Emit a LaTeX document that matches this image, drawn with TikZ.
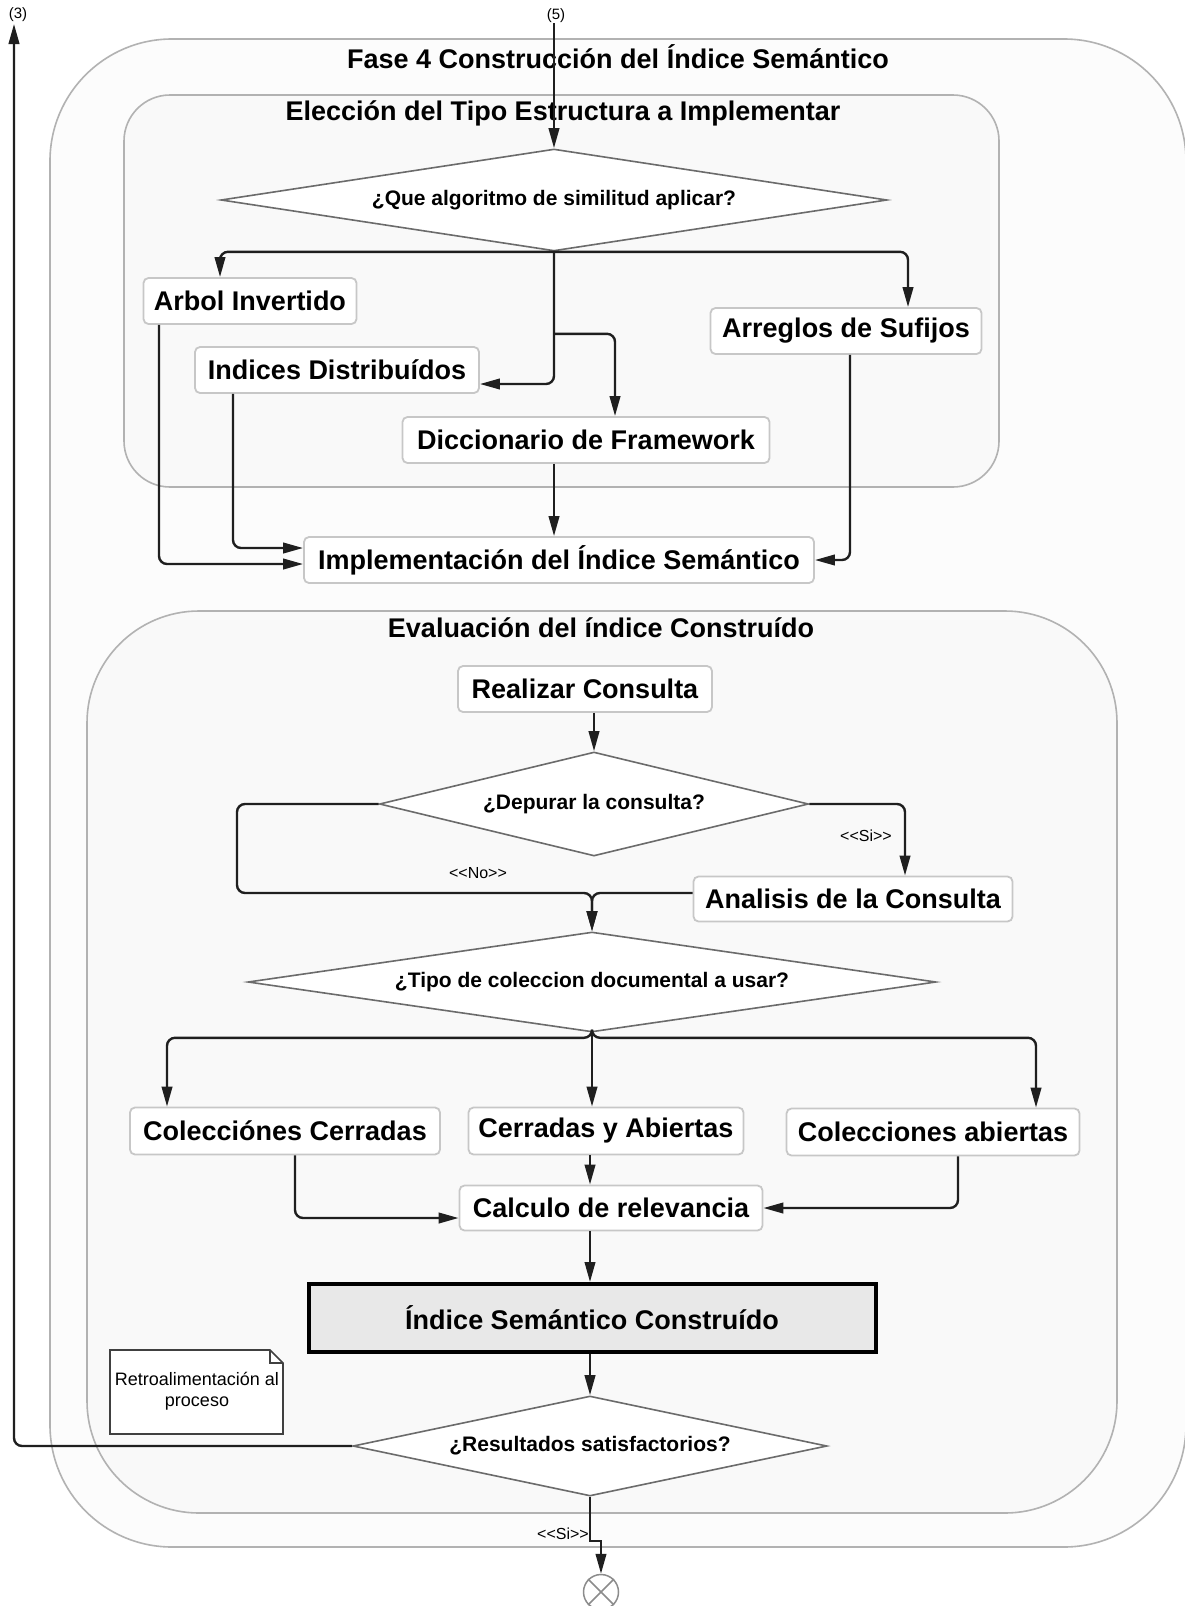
\documentclass[tikz,border=0pt]{standalone}
\usepackage{fontspec}
\setmainfont{Liberation Sans}
\usetikzlibrary{arrows.meta,shapes.geometric,calc}

\begin{document}
\begin{tikzpicture}[x=1pt,y=-1pt,
  flow/.style={draw=black!88, line width=2.4pt, rounded corners=8pt,
               -{Triangle[length=20pt,width=10.5pt]}},
  container/.style={draw=black!30, line width=1.6pt},
  stepbox/.style={draw=black!22, line width=1.8pt, fill=white, rounded corners=5pt,
                  inner sep=0pt, font=\fontsize{27}{32}\selectfont\bfseries},
  decision/.style={diamond, draw=black!58, line width=1.6pt, fill=white, inner sep=0pt,
                   font=\fontsize{21}{25}\selectfont\bfseries},
  title/.style={inner sep=0pt, font=\fontsize{27}{32}\selectfont\bfseries},
  guard/.style={inner sep=0pt, font=\fontsize{16}{19}\selectfont},
  port/.style={inner sep=0pt, font=\fontsize{15}{18}\selectfont},
]
% page
\fill[white] (0,0) rectangle (1184,1606);
\useasboundingbox (0,0) rectangle (1184,1606);

% swimlane containers
\draw[container, fill=black!1, rounded corners=122pt] (50,39) rectangle (1186,1547);
\draw[container, fill=black!2.5, rounded corners=46pt] (124,95) rectangle (999,487);
\draw[container, fill=black!2.5, rounded corners=112pt] (87,611) rectangle (1117,1513);

\node[title] (tfase) at (618,57) {Fase 4 Construcción del Índice Semántico};
\node[title] (telec) at (563,113) {Elección del Tipo Estructura a Implementar};
\node[title] (teval) at (601,628) {Evaluación del índice Construído};

% --- structure choice ---
\node[decision, aspect=6.66, minimum width=666pt, minimum height=102pt] (d1) at (554,200)
  {¿Que algoritmo de similitud aplicar?};
\node[stepbox, minimum width=213pt, minimum height=46pt] (arbol) at (250,301) {Arbol Invertido};
\node[stepbox, minimum width=284pt, minimum height=46pt] (indices) at (337,370) {Indices Distribuídos};
\node[stepbox, minimum width=367pt, minimum height=46pt] (dicc) at (586,440) {Diccionario de Framework};
\node[stepbox, minimum width=271pt, minimum height=46pt] (arreglos) at (846,331) {Arreglos de Sufijos};
\node[stepbox, minimum width=510pt, minimum height=46pt] (impl) at (559,560) {Implementación del Índice Semántico};

% --- evaluation ---
\node[stepbox, minimum width=254pt, minimum height=46pt] (realizar) at (585,689) {Realizar Consulta};
\node[decision, aspect=4.2, minimum width=429pt, minimum height=104pt] (d2) at (594,804)
  {¿Depurar la consulta?};
\node[stepbox, minimum width=319pt, minimum height=45pt] (analisis) at (853,899) {Analisis de la Consulta};
\node[decision, aspect=6.88, minimum width=688pt, minimum height=100pt] (d3) at (592,982)
  {¿Tipo de coleccion documental a usar?};
\node[stepbox, minimum width=310pt, minimum height=47pt] (colcerr) at (285,1131) {Colecciónes Cerradas};
\node[stepbox, minimum width=275pt, minimum height=47pt] (cya) at (606,1131) {Cerradas y Abiertas};
\node[stepbox, minimum width=293pt, minimum height=47pt] (colab) at (933,1132) {Colecciones abiertas};
\node[stepbox, minimum width=303pt, minimum height=45pt] (calc) at (611,1208) {Calculo de relevancia};
\node[draw=black, line width=4pt, fill=black!9, minimum width=567pt, minimum height=68pt,
      inner sep=0pt, font=\fontsize{27}{32}\selectfont\bfseries] (indice) at (592,1318)
  {Índice Semántico Construído};
\node[decision, aspect=4.8, minimum width=474pt, minimum height=100pt] (d4) at (590,1446)
  {¿Resultados satisfactorios?};

% note
\draw[black!75, line width=1.6pt, fill=white]
  (110,1350) -- (270,1350) -- (283,1363) -- (283,1434) -- (110,1434) -- cycle;
\draw[black!75, line width=1.2pt] (270,1350) -- (270,1363) -- (283,1363);
\node[align=center, inner sep=0pt, font=\fontsize{18}{21}\selectfont] (nota) at (197,1391)
  {Retroalimentación al\\proceso};

% flow final
\node[circle, draw=black!45, line width=1.5pt, minimum size=35pt, inner sep=0pt] (fin) at (601,1592) {};
\draw[black!45, line width=1.5pt] (fin.north west) -- (fin.south east)
  (fin.north east) -- (fin.south west);

% off-page connectors
\node[port] (p5) at (556,16) {(5)};
\node[port] (p3) at (18,15) {(3)};
\coordinate (in5) at (554,23);
\coordinate (out3) at (14,24);

% connectors: structure choice
\draw[flow] (in5) -- (d1.north);
\draw[flow] (d1.south) -| ($(arbol.north)+(-30,0)$);
\draw[flow] (d1.south) -| ($(arreglos.north)+(62,0)$);
\draw[flow] (d1.south) |- ($(indices.east)+(0,14)$);
\draw[flow] ($(d1.south)+(0,82)$) -| ($(dicc.north)+(29,0)$);
\draw[flow] ($(arbol.south)+(-91,0)$) |- ($(impl.west)+(0,4)$);
\draw[flow] ($(indices.south)+(-104,0)$) |- ($(impl.west)+(0,-12)$);
\draw[flow] ($(dicc.south)+(-32,0)$) -- ($(impl.north)+(-5,0)$);
\draw[flow] ($(arreglos.south)+(4,0)$) |- (impl.east);

% connectors: evaluation
\draw[flow] (realizar.south -| d2.north) -- (d2.north);
\draw[flow] (d2.east) -| ($(analisis.north)+(52,0)$);
\node[guard] (lsi) at (866,836) {<{}<Si>{}>};
\draw[flow] (d2.west) -| (237,893) -| (d3.north);
\node[guard] (lno) at (478,873) {<{}<No>{}>};
\draw[flow] ($(analisis.west)+(0,-6)$) -| (d3.north);
\draw[flow] (d3.south) -- ++(0,5) -| ($(colcerr.north)+(-118,0)$);
\draw[flow] (d3.south) -- (cya.north -| d3.south);
\draw[flow] (d3.south) -- ++(0,5) -| ($(colab.north)+(103,0)$);
\draw[flow] ($(colcerr.south)+(10,0)$) |- ($(calc.west)+(0,10)$);
\draw[flow] ($(cya.south)+(-16,0)$) -- ($(calc.north)+(-21,0)$);
\draw[flow] ($(colab.south)+(25,0)$) |- (calc.east);
\draw[flow] ($(calc.south)+(-21,0)$) -- ($(indice.north)+(-2,0)$);
\draw[flow] (indice.south -| d4.north) -- (d4.north);
\draw[flow] (d4.west) -| (out3);
\draw[flow, rounded corners=0pt] (d4.south) -- (590,1541) -| (fin.north);
\node[guard] (lsi2) at (563,1534) {<{}<Si>{}>};
\end{tikzpicture}
\end{document}
